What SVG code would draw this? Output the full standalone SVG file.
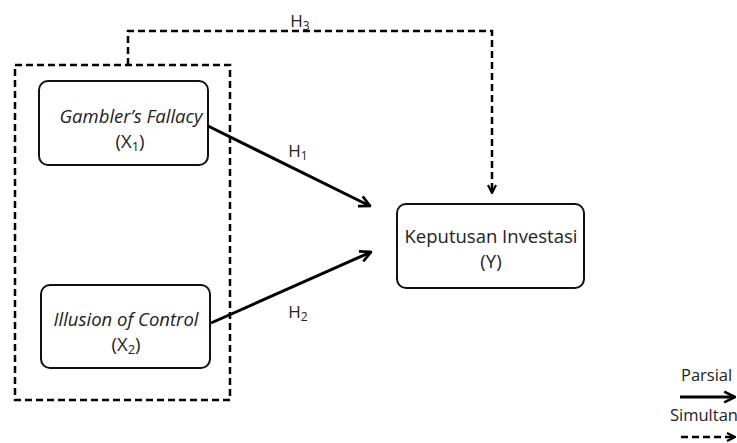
<svg xmlns="http://www.w3.org/2000/svg" width="737" height="443" viewBox="0 0 737 443">
<style>
.box{fill:#fff;stroke:#111;stroke-width:2}
.t{font-family:"Open Sans","Noto Sans",sans-serif;font-size:18.5px;fill:#222;text-anchor:middle}
.i{font-style:italic}
.solid{fill:none;stroke:#000;stroke-width:3}
.dash{fill:none;stroke:#000;stroke-width:2.5;stroke-dasharray:7,4}
.lbl{font-family:"Open Sans","Noto Sans",sans-serif;font-size:17px;fill:#222;text-anchor:middle}
.leg{font-family:"Open Sans","Noto Sans",sans-serif;font-size:16.5px;fill:#222}
</style>
<defs>
<marker id="ah" viewBox="0 0 10 10" refX="9" refY="5" markerWidth="4.5" markerHeight="4.5" orient="auto" markerUnits="strokeWidth">
<path d="M1,1 L9,5 L1,9" fill="none" stroke="#000" stroke-width="2"/>
</marker>
<marker id="ahd" viewBox="0 0 10 10" refX="9" refY="5" markerWidth="4" markerHeight="4" orient="auto" markerUnits="strokeWidth">
<path d="M1,1 L9,5 L1,9" fill="none" stroke="#000" stroke-width="2.2"/>
</marker>
</defs>
<g id="group-x">
<rect x="15" y="65" width="215" height="335" class="dash"/>
</g>
<g id="x1">
<rect x="39" y="81" width="169" height="84" rx="9" class="box"/>
<text x="131" y="123" class="t i">Gambler’s Fallacy</text>
<text x="130" y="148" class="t">(X<tspan font-size="13" dy="3">1</tspan><tspan dy="-3">)</tspan></text>
</g>
<g id="x2">
<rect x="41" y="285" width="169" height="83" rx="9" class="box"/>
<text x="126" y="326" class="t i">Illusion of Control</text>
<text x="126" y="351" class="t">(X<tspan font-size="13" dy="3">2</tspan><tspan dy="-3">)</tspan></text>
</g>
<g id="y">
<rect x="397" y="204" width="187" height="84" rx="9" class="box"/>
<text x="491" y="243" class="t">Keputusan Investasi</text>
<text x="491" y="268" class="t">(Y)</text>
</g>
<g id="connectors">
<line x1="208" y1="126" x2="370" y2="206" class="solid" marker-end="url(#ah)"/>
<line x1="211" y1="323" x2="371" y2="252" class="solid" marker-end="url(#ah)"/>
<path d="M128,65 V31 H492 V193" class="dash" marker-end="url(#ahd)"/>
<text x="298" y="157" class="lbl">H<tspan font-size="12" dy="3">1</tspan></text>
<text x="298" y="318" class="lbl">H<tspan font-size="12" dy="3">2</tspan></text>
<text x="300" y="27" class="lbl">H<tspan font-size="12" dy="3">3</tspan></text>
</g>
<g id="legend">
<text x="681" y="381" class="leg">Parsial</text>
<line x1="680" y1="397" x2="735" y2="397" class="solid" marker-end="url(#ah)"/>
<text x="670" y="421" class="leg">Simultan</text>
<line x1="681" y1="437" x2="735" y2="437" class="dash" marker-end="url(#ahd)"/>
</g>
</svg>
